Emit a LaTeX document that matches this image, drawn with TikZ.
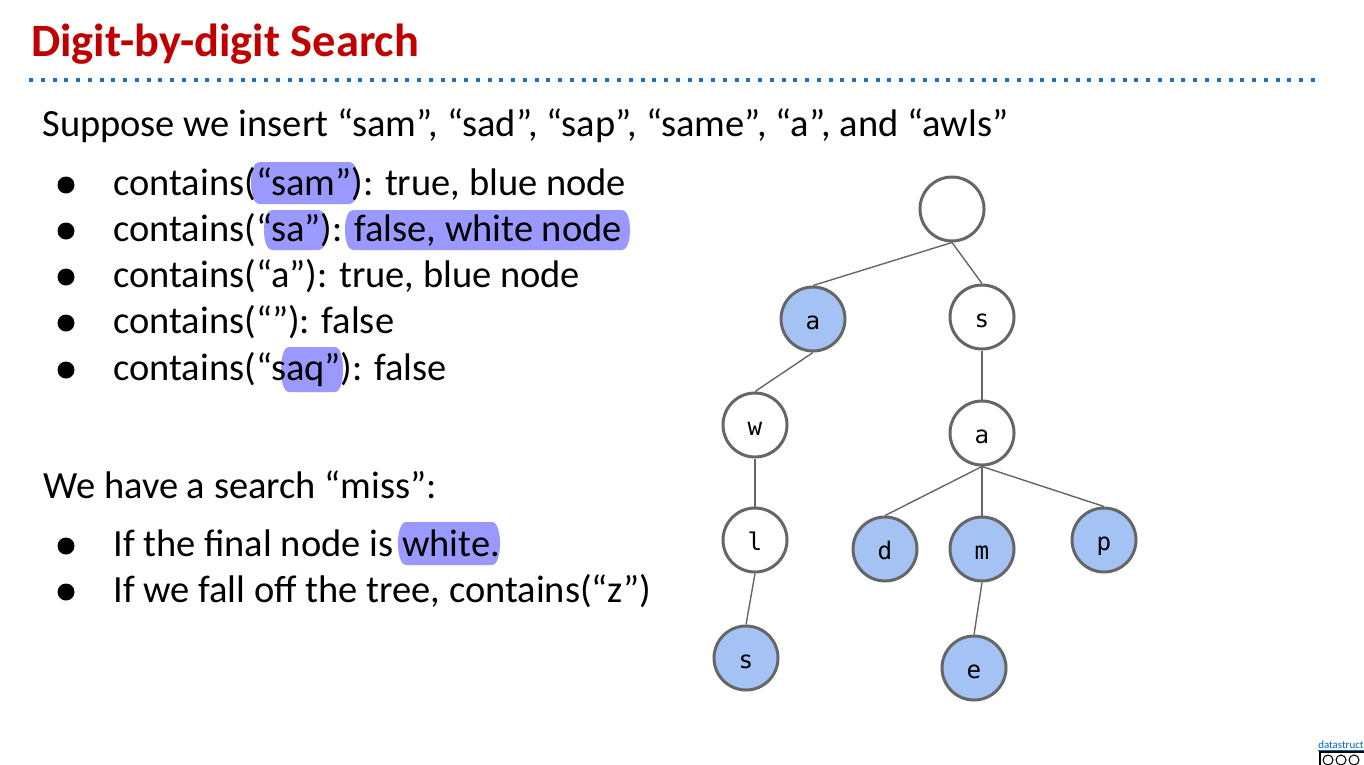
\documentclass[tikz,border=0pt]{standalone}
\usepackage{fontspec}
\setmainfont{Carlito}
\newfontfamily\monof{DejaVu Sans Mono}
\definecolor{titlered}{HTML}{C00000}
\definecolor{rulebl}{HTML}{1F6FC2}
\definecolor{hilite}{HTML}{9999FF}
\definecolor{nodeblue}{HTML}{A4C2F4}
\definecolor{edgegray}{HTML}{666666}
\definecolor{linkblue}{HTML}{0563C1}
\tikzset{
  body/.style={anchor=base west, inner sep=0pt, font=\fontsize{21.9}{26}\selectfont},
  dot/.style={circle, fill=black, inner sep=0pt, minimum size=17*0.02cm},
  trienode/.style={circle, draw=edgegray, line width=1.7pt, minimum size=64*0.02cm,
    inner sep=0pt, text height=11.4pt, text depth=0pt,
    font=\monof\fontsize{13.8}{16}\selectfont},
  filled/.style={trienode, fill=nodeblue},
  empty/.style={trienode, fill=white},
  link/.style={draw=edgegray, line width=0.8pt},
}
% marker band with bulging ends: left, top, right, bottom (pixels)
\newcommand\markband[4]{%
  \fill[hilite] (#1+8,#2) -- (#3-8,#2)
    .. controls (#3+2.7,#2) and (#3+2.7,#4) .. (#3-8,#4)
    -- (#1+8,#4)
    .. controls (#1-2.7,#4) and (#1-2.7,#2) .. (#1+8,#2) -- cycle;}
\begin{document}
\begin{tikzpicture}[x=0.02cm, y=-0.02cm]
\useasboundingbox (0,0) rectangle (1364,764);
\fill[white] (0,0) rectangle (1364,764);

% heading and dotted rule
\node[anchor=base west, inner sep=0pt, text=titlered,
      font=\bfseries\fontsize{26.4}{30}\selectfont] (title) at (31,56) {Digit-by-digit Search};
\draw[rulebl, line width=4*0.02cm, dash pattern=on 4*0.02cm off 7.76*0.02cm]
  (29,80) -- (1316,80);

% highlight marks behind the text
\markband{251}{162}{358}{204}
\markband{264}{210}{327}{250}
\markband{345}{210}{630}{250}
\markband{281}{347}{343}{392}
\markband{398}{522}{500}{565}

% text
\node[body] (intro) at (42,136) {Suppose we insert “sam”, “sad”, “sap”, “same”, “a”, and “awls”};
\node[dot] (b1) at (66,185) {};
\node[body] (t1) at (113,195) {contains(“sam”): true, blue node};
\node[dot] (b2) at (66,231) {};
\node[body] (t2) at (113,241) {contains(“sa”): false, white node};
\node[dot] (b3) at (66,277) {};
\node[body] (t3) at (113,287) {contains(“a”): true, blue node};
\node[dot] (b4) at (66,323) {};
\node[body] (t4) at (113,333) {contains(“”): false};
\node[dot] (b5) at (66,370) {};
\node[body] (t5) at (113,380) {contains(“saq”): false};

\node[body] (miss) at (43,498) {We have a search “miss”:};
\node[dot] (b6) at (66,546) {};
\node[body] (t6) at (113,556) {If the final node is white.};
\node[dot] (b7) at (66,592) {};
\node[body] (t7) at (113,602) {If we fall off the tree, contains(“z”)};

% trie
\node[empty]  (root) at (952,209) {};
\node[filled] (na)   at (813,319) {a};
\node[empty]  (ns)   at (982,317) {s};
\node[empty]  (nw)   at (755,425) {w};
\node[empty]  (nsa)  at (982,433) {a};
\node[empty]  (nl)   at (755,540) {l};
\node[filled] (nd)   at (885,549) {d};
\node[filled] (nm)   at (982,549) {m};
\node[filled] (np)   at (1104,540) {p};
\node[filled] (nls)  at (746,658) {s};
\node[filled] (ne)   at (974,668) {e};

\draw[link] (root.south) -- (na.north);
\draw[link] (root.south) -- (ns.north);
\draw[link] (na.south) -- (nw.north);
\draw[link] (nw.south) -- (nl.north);
\draw[link] (nl.south) -- (nls.north);
\draw[link] (ns.south) -- (nsa.north);
\draw[link] (nsa.south) -- (nd.north);
\draw[link] (nsa.south) -- (nm.north);
\draw[link] (nsa.south) -- (np.north);
\draw[link] (nm.south) -- (ne.north);

% footer link and licence badge, running off the page edge
\node[anchor=base west, inner sep=0pt, text=linkblue,
      font=\fontsize{6.2}{7}\selectfont] (credit) at (1318,748) {\underline{datastructur.es}};
\draw[black, line width=0.6pt, fill=white] (1320,752) rectangle (1380,768);
\draw[black, line width=0.6pt] (1328,760) circle (5) (1341,760) circle (5) (1354,760) circle (5);
\end{tikzpicture}
\end{document}
